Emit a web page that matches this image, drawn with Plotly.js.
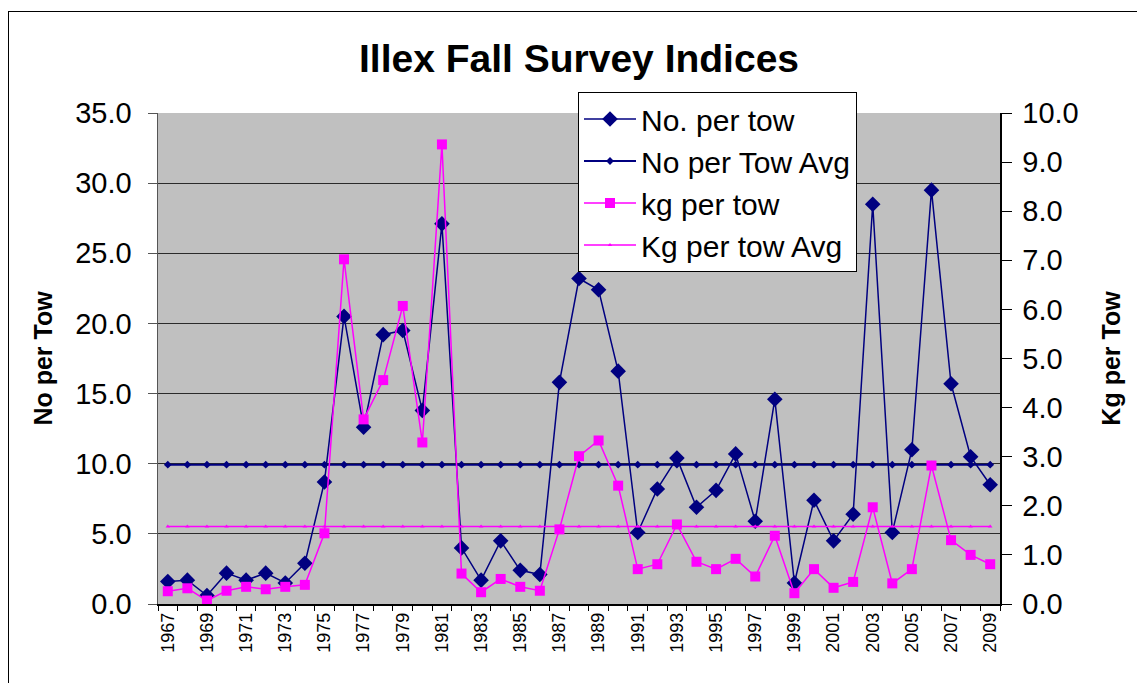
<!DOCTYPE html>
<html>
<head>
<meta charset="utf-8">
<script src="https://cdn.plot.ly/plotly-3.0.1.min.js"></script>
<style>
  html, body { margin: 0; padding: 0; background: #fff; overflow: hidden; }
  #chart { position: absolute; left: 0; top: 0; width: 1137px; height: 683px; }
  #frame { position: absolute; left: 8px; top: 11px; width: 1140px; height: 700px;
           border: 1.5px solid #000; pointer-events: none; z-index: 10; }
</style>
</head>
<body>
<div id="chart"></div>
<div id="frame"></div>
<script>
const years = [1967,1968,1969,1970,1971,1972,1973,1974,1975,1976,1977,1978,1979,1980,1981,1982,1983,1984,1985,1986,1987,1988,1989,1990,1991,1992,1993,1994,1995,1996,1997,1998,1999,2000,2001,2002,2003,2004,2005,2006,2007,2008,2009];

const noPerTow = [1.6,1.7,0.6,2.2,1.7,2.2,1.5,2.9,8.7,20.5,12.6,19.2,19.5,13.8,27.1,4.0,1.7,4.5,2.4,2.1,15.8,23.2,22.4,16.6,5.1,8.2,10.4,6.9,8.1,10.7,5.9,14.6,1.5,7.4,4.5,6.4,28.5,5.1,11.0,29.5,15.7,10.5,8.5];

const noPerTowAvg = [9.93,9.93,9.93,9.93,9.93,9.93,9.93,9.93,9.93,9.93,9.93,9.93,9.93,9.93,9.93,9.93,9.93,9.93,9.93,9.93,9.93,9.93,9.93,9.93,9.93,9.93,9.93,9.93,9.93,9.93,9.93,9.93,9.93,9.93,9.93,9.93,9.93,9.93,9.93,9.93,9.93,9.93,9.93];

const kgPerTow = [0.26,0.32,0.07,0.27,0.35,0.30,0.35,0.39,1.44,7.02,3.76,4.56,6.07,3.29,9.36,0.62,0.24,0.51,0.35,0.27,1.52,3.01,3.33,2.41,0.71,0.81,1.62,0.86,0.71,0.92,0.56,1.39,0.22,0.71,0.33,0.45,1.97,0.42,0.71,2.82,1.30,1.00,0.81];

const kgPerTowAvg = [1.58,1.58,1.58,1.58,1.58,1.58,1.58,1.58,1.58,1.58,1.58,1.58,1.58,1.58,1.58,1.58,1.58,1.58,1.58,1.58,1.58,1.58,1.58,1.58,1.58,1.58,1.58,1.58,1.58,1.58,1.58,1.58,1.58,1.58,1.58,1.58,1.58,1.58,1.58,1.58,1.58,1.58,1.58];

const xTickYears = [1967,1969,1971,1973,1975,1977,1979,1981,1983,1985,1987,1989,1991,1993,1995,1997,1999,2001,2003,2005,2007,2009];
const leftTicks = [0,5,10,15,20,25,30,35];
const rightTicks = [0,1,2,3,4,5,6,7,8,9,10];

const NAVY = '#000080';
const MAGENTA = '#FF00FF';
const FONT = 'Liberation Sans, Arial, sans-serif';

const traces = [
  { x: years, y: noPerTow, name: 'No. per tow', type: 'scatter', mode: 'lines+markers',
    line: {color: NAVY, width: 1.5}, marker: {symbol: 'diamond', size: 12, color: NAVY},
    legendgroup: 'a', yaxis: 'y' },
  { x: years, y: noPerTowAvg, name: 'No per Tow Avg', type: 'scatter', mode: 'lines+markers',
    line: {color: NAVY, width: 2}, marker: {symbol: 'diamond', size: 6, color: NAVY},
    legendgroup: 'b', yaxis: 'y' },
  { x: years, y: kgPerTow, name: 'kg per tow', type: 'scatter', mode: 'lines+markers',
    line: {color: MAGENTA, width: 1.5}, marker: {symbol: 'square', size: 10, color: MAGENTA},
    legendgroup: 'c', yaxis: 'y2' },
  { x: years, y: kgPerTowAvg, name: 'Kg per tow Avg', type: 'scatter', mode: 'lines+markers',
    line: {color: MAGENTA, width: 1.5}, marker: {symbol: 'triangle-up', size: 4, color: MAGENTA},
    legendgroup: 'd', yaxis: 'y2' }
];

const layout = {
  width: 1137, height: 683,
  margin: {l: 158, r: 137, t: 113, b: 79, pad: 0},
  paper_bgcolor: '#FFFFFF',
  plot_bgcolor: '#C0C0C0',
  font: {family: FONT, color: '#000'},
  title: {text: 'Illex Fall Survey Indices', font: {family: FONT, size: 39, weight: 'bold', color: '#000'},
          x: 0.5, xref: 'paper', xanchor: 'center', y: 1 - 58/683, yref: 'container', yanchor: 'middle'},
  showlegend: true,
  legend: {x: (578-158)/842, y: (604-92)/491, xanchor: 'left', yanchor: 'top',
           bgcolor: '#FFFFFF', bordercolor: '#000000', borderwidth: 1,
           font: {family: FONT, size: 30, color: '#000'}, itemwidth: 52,
           tracegroupgap: 4, traceorder: 'normal'},
  xaxis: {
    type: 'linear', range: [1966.5, 2009.5], fixedrange: true,
    tickmode: 'array', tickvals: xTickYears, ticktext: xTickYears.map(String),
    tickangle: -90, tickfont: {family: FONT, size: 18, color: '#000'},
    ticks: 'outside', ticklen: 0, tickcolor: '#000',
    minor: {tick0: 1966.5, dtick: 1, ticks: 'outside', ticklen: 5, tickcolor: '#000', showgrid: false},
    showgrid: false, zeroline: false,
    showline: true, linecolor: '#000', linewidth: 1.5
  },
  yaxis: {
    range: [0, 35], tickmode: 'array', tickvals: leftTicks, tickformat: '.1f',
    tickfont: {family: FONT, size: 29, color: '#000'},
    ticks: 'outside', ticklen: 9, tickcolor: '#555', ticklabelstandoff: 10,
    showgrid: true, gridcolor: '#2a2a2a', gridwidth: 1,
    zeroline: false, showline: true, linecolor: '#555', linewidth: 1.5,
    title: {text: 'No per Tow', font: {family: FONT, size: 25, weight: 'bold', color: '#000'}, standoff: 15}
  },
  yaxis2: {
    range: [0, 10], overlaying: 'y', side: 'right', anchor: 'x',
    tickmode: 'array', tickvals: rightTicks, tickformat: '.1f',
    tickfont: {family: FONT, size: 29, color: '#000'},
    ticks: 'outside', ticklen: 10, tickcolor: '#000', ticklabelstandoff: 5,
    showgrid: false, zeroline: false, showline: true, linecolor: '#000', linewidth: 1.5,
    title: {text: 'Kg per Tow', font: {family: FONT, size: 25, weight: 'bold', color: '#000'}, standoff: 24}
  }
};

Plotly.newPlot('chart', traces, layout, {displayModeBar: false, staticPlot: true});
</script>
</body>
</html>
